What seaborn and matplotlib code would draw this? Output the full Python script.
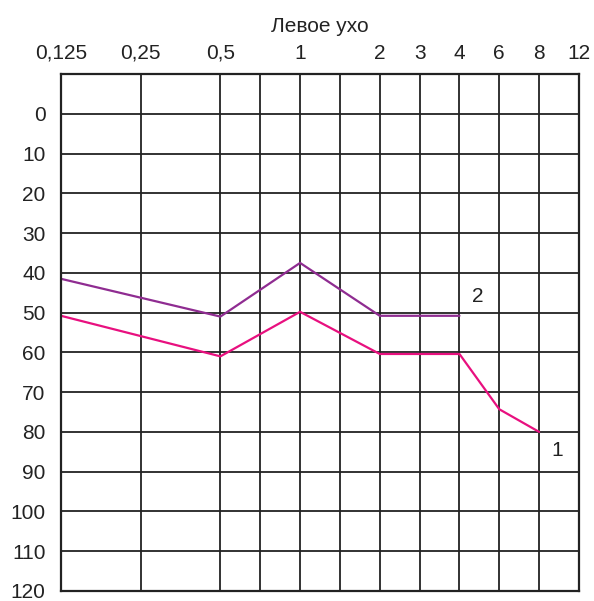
import numpy as np
import pandas as pd
import matplotlib
matplotlib.use("Agg")
import matplotlib.pyplot as plt
import seaborn as sns

# audiogram frequency axis (kHz) and its slot on the chart
scale_freqs = [0.125, 0.25, 0.5, 0.75, 1, 1.5, 2, 3, 4, 6, 8, 12]
scale_slots = [0, 2, 4, 5, 6, 7, 8, 9, 10, 11, 12, 13]
tick_freqs = [0.125, 0.25, 0.5, 1, 2, 3, 4, 6, 8, 12]
tick_labels = ["0,125", "0,25", "0,5", "1", "2", "3", "4", "6", "8", "12"]
db_ticks = list(range(0, 130, 10))

# series 1 (pink) and 2 (purple), hearing level in dB
freq_1 = [0.125, 0.5, 1, 2, 4, 6, 8]
level_1 = [50.8, 61, 49.8, 60.4, 60.4, 74.3, 80]
freq_2 = [0.125, 0.5, 1, 2, 4]
level_2 = [41.5, 51, 37.5, 50.8, 50.8]

log_f = np.log(scale_freqs)


def fwd(f):
    return np.interp(np.log(np.clip(f, 1e-6, None)), log_f, scale_slots)


def inv(s):
    return np.exp(np.interp(s, scale_slots, log_f))


df = pd.concat([
    pd.DataFrame({"freq": freq_1, "level": level_1, "series": "1"}),
    pd.DataFrame({"freq": freq_2, "level": level_2, "series": "2"}),
])

sns.set_style("white")
plt.rcParams["font.family"] = ["Liberation Sans", "DejaVu Sans"]
fs = 15

fig = plt.figure(figsize=(5.94, 6.01), dpi=100)
ax = fig.add_axes([61 / 594, 1 - 591 / 601, 518 / 594, 517 / 601])
ax.set_xscale("function", functions=(fwd, inv))

sns.lineplot(data=df, x="freq", y="level", hue="series",
             palette={"1": "#e8107f", "2": "#8f2c91"}, linewidth=1.6,
             sort=False, legend=False, ax=ax)

ax.set_xlim(0.125, 12)
ax.set_ylim(120, -10)

ax.xaxis.tick_top()
ax.set_xticks(tick_freqs)
ax.set_xticklabels(tick_labels, fontsize=fs)
ax.set_xticks(scale_freqs, minor=True)
ax.xaxis.set_minor_formatter(plt.NullFormatter())
ax.set_yticks(db_ticks)
ax.set_yticklabels([str(v) for v in db_ticks], fontsize=fs)
ax.tick_params(axis="y", length=0, pad=11, colors="#222222")
ax.tick_params(axis="x", which="both", length=0, pad=8, colors="#222222")

ax.grid(True, which="both", axis="x", color="#222222", linewidth=1.3)
ax.grid(True, axis="y", color="#222222", linewidth=1.3)
for sp in ax.spines.values():
    sp.set_color("#222222")
    sp.set_linewidth(1.6)

ax.set_xlabel("")
ax.set_ylabel("")
ax.set_title("Левое ухо", fontsize=fs, pad=30, color="#222222")

ax.text(inv(10.45), 46, "2", fontsize=fs, ha="center", va="center", color="#222222")
ax.text(inv(12.45), 84.7, "1", fontsize=fs, ha="center", va="center", color="#222222")

fig.savefig("out.png", dpi=100)
